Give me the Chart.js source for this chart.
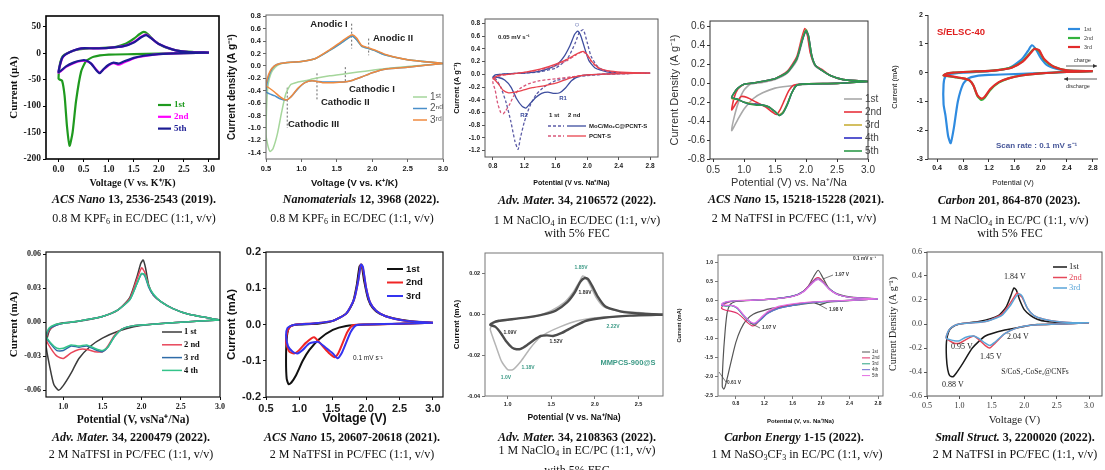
<!DOCTYPE html>
<html>
<head>
<meta charset="utf-8">
<script src="https://cdn.jsdelivr.net/npm/chart.js@4.4.1/dist/chart.umd.min.js"></script>
<style>
  html, body { margin: 0; padding: 0; background: #fff; }
  #fig { position: relative; width: 1105px; height: 470px; overflow: hidden; background: #fff; }
  #fig canvas { position: absolute; }
  .cap { position: absolute; white-space: nowrap; font-family: "Liberation Serif", "Times New Roman", serif;
         font-size: 12px; color: #111; transform: translate(-50%, -50%); line-height: 1; }
  .cap.b { font-weight: bold; }
  .cap sub { font-size: 8px; vertical-align: -2px; line-height: 0; }
</style>
</head>
<body>
<div id="fig"></div>
<script>
// ---------- captions ----------
const capJournal = ['ACS Nano', 'Nanomaterials', 'Adv. Mater.', 'ACS Nano', 'Carbon',
                    'Adv. Mater.', 'ACS Nano', 'Adv. Mater.', 'Carbon Energy', 'Small Struct.'];
const capRef = [' 13, 2536-2543 (2019).', ' 12, 3968 (2022).', ' 34, 2106572 (2022).', ' 15, 15218-15228 (2021).', ' 201, 864-870 (2023).',
                ' 34, 2200479 (2022).', ' 15, 20607-20618 (2021).', ' 34, 2108363 (2022).', ' 1-15 (2022).', ' 3, 2200020 (2022).'];
const capElectrolyte = ['0.8 M KPF<sub>6</sub> in EC/DEC (1:1, v/v)', '0.8 M KPF<sub>6</sub> in EC/DEC (1:1, v/v)',
                        '1 M NaClO<sub>4</sub> in EC/DEC (1:1, v/v)', '2 M NaTFSI in PC/FEC (1:1, v/v)',
                        '1 M NaClO<sub>4</sub> in EC/PC (1:1, v/v)', '2 M NaTFSI in PC/FEC (1:1, v/v)',
                        '2 M NaTFSI in PC/FEC (1:1, v/v)', '1 M NaClO<sub>4</sub> in EC/PC (1:1, v/v)',
                        '1 M NaSO<sub>3</sub>CF<sub>3</sub> in EC/PC (1:1, v/v)', '2 M NaTFSI in PC/FEC (1:1, v/v)'];
const capExtra = ['', '', 'with 5% FEC', '', 'with 5% FEC', '', '', 'with 5% FEC', '', ''];

// ---------- panel 1: ACS Nano 13 (K) ----------
const p1XTicks = [0, 0.5, 1.0, 1.5, 2.0, 2.5, 3.0];
const p1YTicks = [50, 0, -50, -100, -150, -200];
const p1V1 = [3.0, 2.5, 2.0, 1.5, 1.0, 0.7, 0.55, 0.45, 0.35, 0.28, 0.22, 0.17, 0.12, 0.07, 0.02, 0.0, 0.02, 0.06, 0.12, 0.25, 0.4, 0.6, 0.9, 1.15, 1.35, 1.5, 1.62, 1.7, 1.78, 1.9, 2.1, 2.4, 2.7, 3.0];
const p1I1 = [1, 0, -1, -2, -3, -7, -15, -35, -90, -150, -175, -140, -80, -52, -50, -48, -25, -10, -3, 3, 7, 9, 10, 12, 18, 27, 36, 40, 36, 24, 12, 4, 2, 1];
const p1V25 = [3.0, 2.5, 2.0, 1.7, 1.5, 1.3, 1.2, 1.1, 1.0, 0.9, 0.82, 0.75, 0.65, 0.55, 0.45, 0.3, 0.15, 0.05, 0.0, 0.03, 0.08, 0.15, 0.3, 0.45, 0.7, 1.0, 1.3, 1.5, 1.65, 1.75, 1.85, 2.0, 2.3, 2.6, 3.0];
const p1I2 = [1, 0, -2, -6, -10, -18, -22, -19, -23, -31, -37, -31, -20, -15, -15, -19, -26, -34, -37, -23, -9, -2, 5, 9, 9, 10, 13, 21, 31, 35, 28, 17, 6, 2, 1];
const p1I5 = [1, 0, -2, -5, -9, -16, -20, -18, -22, -30, -38, -32, -20, -14, -14, -18, -25, -33, -36, -22, -8, -2, 5, 9, 9, 10, 13, 20, 30, 34, 28, 17, 6, 2, 1];

// ---------- panel 2: Nanomaterials 12 ----------
const p2XTicks = [0.5, 1.0, 1.5, 2.0, 2.5, 3.0];
const p2YTicks = [0.8, 0.6, 0.4, 0.2, 0.0, -0.2, -0.4, -0.6, -0.8, -1.0, -1.2, -1.4];
const p2V1 = [3.0, 2.5, 2.2, 2.0, 1.8, 1.6, 1.4, 1.2, 1.05, 0.95, 0.85, 0.78, 0.72, 0.66, 0.6, 0.56, 0.53, 0.5, 0.51, 0.53, 0.57, 0.63, 0.7, 0.8, 1.0, 1.2, 1.4, 1.55, 1.65, 1.72, 1.78, 1.85, 1.95, 2.05, 2.2, 2.5, 3.0];
const p2I1 = [0.04, -0.01, -0.04, -0.07, -0.1, -0.13, -0.16, -0.2, -0.24, -0.26, -0.3, -0.45, -0.75, -1.1, -1.33, -1.38, -1.3, -1.1, -0.6, -0.3, -0.12, -0.02, 0.03, 0.05, 0.07, 0.12, 0.25, 0.36, 0.44, 0.48, 0.42, 0.32, 0.28, 0.24, 0.17, 0.1, 0.04];
const p2V23 = [3.0, 2.5, 2.2, 2.0, 1.85, 1.7, 1.6, 1.45, 1.3, 1.15, 1.05, 0.95, 0.85, 0.78, 0.7, 0.62, 0.55, 0.5, 0.52, 0.56, 0.62, 0.7, 0.85, 1.0, 1.2, 1.4, 1.55, 1.65, 1.72, 1.78, 1.85, 1.95, 2.05, 2.2, 2.5, 3.0];
const p2I2 = [0.04, -0.02, -0.05, -0.11, -0.18, -0.24, -0.26, -0.26, -0.26, -0.24, -0.27, -0.37, -0.5, -0.55, -0.53, -0.48, -0.45, -0.42, -0.25, -0.1, 0.0, 0.04, 0.06, 0.07, 0.12, 0.25, 0.36, 0.44, 0.48, 0.42, 0.32, 0.28, 0.24, 0.17, 0.1, 0.04];
const p2I3 = [0.04, -0.02, -0.05, -0.11, -0.18, -0.24, -0.26, -0.27, -0.27, -0.24, -0.27, -0.36, -0.5, -0.55, -0.5, -0.42, -0.36, -0.32, -0.2, -0.08, 0.0, 0.04, 0.06, 0.07, 0.12, 0.26, 0.38, 0.46, 0.5, 0.45, 0.33, 0.29, 0.25, 0.18, 0.1, 0.04];
const p2MarkV = [1.71, 1.95, 1.62, 1.22, 0.8];
const p2MarkTop = [0.68, 0.44, -0.02, -0.12, -0.35];
const p2MarkBot = [0.28, 0.17, -0.28, -0.55, -1.0];

// ---------- panel 3: Adv. Mater. 34, 2106572 ----------
const p3XTicks = [0.8, 1.2, 1.6, 2.0, 2.4, 2.8];
const p3YTicks = [0.8, 0.6, 0.4, 0.2, 0.0, -0.2, -0.4, -0.6, -0.8, -1.0, -1.2];
const p3VMoC1 = [2.8, 2.4, 2.2, 2.0, 1.8, 1.6, 1.45, 1.35, 1.27, 1.2, 1.15, 1.12, 1.08, 1.03, 0.97, 0.9, 0.84, 0.8, 0.83, 0.9, 1.0, 1.2, 1.4, 1.6, 1.75, 1.85, 1.9, 1.95, 2.0, 2.05, 2.15, 2.3, 2.5, 2.8];
const p3IMoC1 = [0.02, 0.01, 0.0, -0.02, -0.05, -0.1, -0.2, -0.32, -0.5, -0.75, -1.0, -1.18, -1.05, -0.75, -0.45, -0.2, -0.08, -0.05, -0.02, 0.0, 0.01, 0.02, 0.04, 0.1, 0.25, 0.5, 0.66, 0.7, 0.5, 0.28, 0.1, 0.04, 0.02, 0.02];
const p3VMoC2 = [2.8, 2.4, 2.0, 1.9, 1.8, 1.72, 1.65, 1.58, 1.5, 1.42, 1.35, 1.28, 1.22, 1.17, 1.1, 1.03, 0.95, 0.87, 0.8, 0.83, 0.9, 1.0, 1.2, 1.4, 1.6, 1.7, 1.78, 1.84, 1.88, 1.92, 1.97, 2.02, 2.1, 2.25, 2.5, 2.8];
const p3IMoC2 = [0.02, 0.01, -0.01, -0.03, -0.1, -0.22, -0.29, -0.3, -0.28, -0.3, -0.36, -0.45, -0.53, -0.5, -0.38, -0.2, -0.09, -0.05, -0.05, -0.01, 0.0, 0.01, 0.02, 0.05, 0.14, 0.27, 0.45, 0.63, 0.68, 0.6, 0.4, 0.22, 0.1, 0.04, 0.02, 0.02];
const p3VPC1 = [2.8, 2.4, 2.0, 1.8, 1.6, 1.4, 1.25, 1.15, 1.07, 1.01, 0.96, 0.93, 0.9, 0.86, 0.83, 0.8, 0.83, 0.9, 1.0, 1.2, 1.4, 1.6, 1.75, 1.85, 1.93, 1.98, 2.05, 2.15, 2.3, 2.5, 2.8];
const p3IPC1 = [0.02, 0.01, -0.01, -0.04, -0.07, -0.1, -0.15, -0.22, -0.33, -0.48, -0.58, -0.62, -0.6, -0.45, -0.25, -0.12, -0.06, -0.02, 0.0, 0.03, 0.07, 0.14, 0.22, 0.3, 0.35, 0.33, 0.2, 0.09, 0.04, 0.02, 0.02];
const p3VPC2 = [2.8, 2.4, 2.0, 1.8, 1.6, 1.45, 1.3, 1.18, 1.08, 1.0, 0.93, 0.87, 0.82, 0.8, 0.83, 0.9, 1.0, 1.2, 1.4, 1.6, 1.75, 1.88, 1.95, 2.0, 2.06, 2.15, 2.3, 2.5, 2.8];
const p3IPC2 = [0.02, 0.01, -0.01, -0.05, -0.14, -0.18, -0.21, -0.25, -0.28, -0.29, -0.25, -0.15, -0.08, -0.07, -0.04, -0.01, 0.0, 0.03, 0.08, 0.16, 0.24, 0.33, 0.36, 0.31, 0.2, 0.1, 0.05, 0.03, 0.02];

// ---------- panel 4: ACS Nano 15, 15218 ----------
const p4XTicks = [0.5, 1.0, 1.5, 2.0, 2.5, 3.0];
const p4YTicks = [0.6, 0.4, 0.2, 0.0, -0.2, -0.4, -0.6, -0.8];
const p4V1 = [3.0, 2.5, 2.0, 1.7, 1.5, 1.3, 1.15, 1.0, 0.9, 0.8, 0.85, 0.92, 1.0, 1.1, 1.3, 1.5, 1.7, 1.85, 1.93, 1.98, 2.03, 2.08, 2.15, 2.25, 2.4, 2.6, 3.0];
const p4I1 = [0.02, 0.0, -0.01, -0.03, -0.05, -0.1, -0.16, -0.27, -0.38, -0.5, -0.33, -0.18, -0.07, -0.01, 0.01, 0.04, 0.11, 0.24, 0.42, 0.55, 0.5, 0.3, 0.18, 0.14, 0.08, 0.04, 0.02];
const p4V2 = [3.0, 2.5, 2.0, 1.8, 1.72, 1.65, 1.58, 1.52, 1.45, 1.35, 1.2, 1.05, 0.95, 0.88, 0.8, 0.84, 0.9, 1.0, 1.2, 1.5, 1.7, 1.85, 1.93, 1.98, 2.02, 2.07, 2.15, 2.25, 2.4, 2.6, 3.0];
const p4I2 = [0.02, 0.0, -0.005, -0.02, -0.08, -0.18, -0.28, -0.33, -0.3, -0.25, -0.2, -0.15, -0.14, -0.2, -0.28, -0.15, -0.06, -0.01, 0.01, 0.05, 0.13, 0.28, 0.48, 0.58, 0.52, 0.32, 0.19, 0.15, 0.08, 0.04, 0.02];
const p4V345 = [3.0, 2.5, 2.0, 1.85, 1.77, 1.7, 1.63, 1.57, 1.5, 1.4, 1.3, 1.2, 1.1, 1.0, 0.9, 0.8, 0.84, 0.9, 1.0, 1.2, 1.5, 1.7, 1.85, 1.94, 2.0, 2.04, 2.09, 2.15, 2.25, 2.4, 2.6, 3.0];
const p4I3 = [0.02, 0.0, -0.005, -0.02, -0.1, -0.21, -0.3, -0.33, -0.3, -0.25, -0.23, -0.22, -0.21, -0.2, -0.17, -0.16, -0.1, -0.05, -0.01, 0.01, 0.05, 0.12, 0.26, 0.47, 0.57, 0.5, 0.3, 0.19, 0.14, 0.08, 0.04, 0.02];
const p4I4 = [0.02, 0.0, -0.005, -0.02, -0.1, -0.22, -0.31, -0.34, -0.3, -0.25, -0.23, -0.22, -0.22, -0.2, -0.17, -0.15, -0.1, -0.05, -0.01, 0.01, 0.05, 0.12, 0.26, 0.46, 0.56, 0.5, 0.3, 0.19, 0.14, 0.08, 0.04, 0.02];
const p4I5 = [0.02, 0.0, -0.005, -0.02, -0.1, -0.22, -0.31, -0.34, -0.3, -0.25, -0.23, -0.23, -0.22, -0.2, -0.17, -0.15, -0.1, -0.05, -0.01, 0.01, 0.05, 0.12, 0.26, 0.46, 0.56, 0.5, 0.3, 0.19, 0.14, 0.08, 0.04, 0.02];

// ---------- panel 5: Carbon 201 ----------
const p5XTicks = [0.4, 0.8, 1.2, 1.6, 2.0, 2.4, 2.8];
const p5YTicks = [2, 1, 0, -1, -2, -3];
const p5V1 = [2.8, 2.4, 2.0, 1.6, 1.2, 1.0, 0.88, 0.8, 0.72, 0.66, 0.61, 0.57, 0.53, 0.5, 0.5, 0.53, 0.6, 0.8, 1.2, 1.5, 1.7, 1.8, 1.86, 1.92, 2.0, 2.1, 2.3, 2.5, 2.8];
const p5I1 = [0.05, 0.02, -0.02, -0.05, -0.08, -0.12, -0.2, -0.4, -1.0, -1.9, -2.45, -2.2, -1.5, -1.1, -0.4, -0.12, -0.05, 0.0, 0.05, 0.15, 0.45, 0.75, 0.95, 0.82, 0.5, 0.25, 0.1, 0.06, 0.05];
const p5V23 = [2.8, 2.4, 2.0, 1.7, 1.5, 1.35, 1.22, 1.13, 1.08, 1.02, 0.96, 0.9, 0.8, 0.7, 0.6, 0.5, 0.55, 0.65, 0.8, 1.0, 1.3, 1.55, 1.72, 1.82, 1.9, 1.97, 2.05, 2.2, 2.4, 2.8];
const p5I2 = [0.05, 0.02, -0.03, -0.1, -0.2, -0.35, -0.6, -0.88, -0.95, -0.8, -0.45, -0.27, -0.2, -0.17, -0.13, -0.1, -0.03, 0.0, 0.02, 0.04, 0.08, 0.18, 0.4, 0.65, 0.83, 0.75, 0.45, 0.2, 0.08, 0.05];
const p5I3 = [0.05, 0.02, -0.03, -0.1, -0.2, -0.33, -0.57, -0.85, -0.9, -0.78, -0.45, -0.27, -0.2, -0.16, -0.12, -0.1, -0.03, 0.0, 0.02, 0.04, 0.08, 0.17, 0.38, 0.62, 0.82, 0.78, 0.47, 0.2, 0.08, 0.05];

// ---------- panel 6: Adv. Mater. 34, 2200479 ----------
const p6XTicks = [1.0, 1.5, 2.0, 2.5, 3.0];
const p6YTicks = [0.06, 0.03, 0.0, -0.03, -0.06];
const p6V1 = [3.0, 2.5, 2.1, 1.9, 1.7, 1.5, 1.35, 1.2, 1.1, 1.0, 0.94, 0.88, 0.83, 0.78, 0.82, 0.88, 0.95, 1.1, 1.3, 1.5, 1.7, 1.85, 1.94, 1.99, 2.02, 2.05, 2.09, 2.15, 2.25, 2.4, 2.6, 3.0];
const p6I1 = [0.002, 0.0, -0.002, -0.004, -0.008, -0.014, -0.021, -0.032, -0.045, -0.056, -0.06, -0.055, -0.04, -0.02, -0.008, -0.003, -0.001, 0.0, 0.002, 0.005, 0.011, 0.022, 0.04, 0.052, 0.055, 0.048, 0.033, 0.024, 0.018, 0.012, 0.007, 0.002];
const p6V234 = [3.0, 2.5, 2.1, 1.9, 1.75, 1.65, 1.57, 1.5, 1.4, 1.3, 1.2, 1.1, 1.0, 0.92, 0.85, 0.78, 0.82, 0.9, 1.0, 1.2, 1.5, 1.7, 1.85, 1.94, 2.0, 2.04, 2.09, 2.15, 2.25, 2.4, 2.6, 3.0];
const p6I2 = [0.002, 0.0, -0.002, -0.003, -0.006, -0.012, -0.021, -0.026, -0.026, -0.024, -0.024, -0.027, -0.032, -0.03, -0.024, -0.015, -0.007, -0.003, -0.001, 0.001, 0.005, 0.011, 0.021, 0.038, 0.048, 0.044, 0.032, 0.024, 0.018, 0.012, 0.007, 0.002];
const p6I3 = [0.002, 0.0, -0.002, -0.003, -0.006, -0.013, -0.022, -0.026, -0.024, -0.021, -0.022, -0.021, -0.025, -0.025, -0.02, -0.013, -0.006, -0.003, -0.001, 0.001, 0.005, 0.011, 0.02, 0.034, 0.043, 0.041, 0.031, 0.024, 0.018, 0.012, 0.007, 0.002];
const p6I4 = [0.002, 0.0, -0.002, -0.003, -0.006, -0.013, -0.022, -0.025, -0.023, -0.02, -0.021, -0.02, -0.023, -0.023, -0.019, -0.012, -0.005, -0.002, -0.001, 0.001, 0.005, 0.011, 0.02, 0.034, 0.043, 0.042, 0.032, 0.025, 0.018, 0.012, 0.007, 0.002];

// ---------- panel 7: ACS Nano 15, 20607 ----------
const p7XTicks = [0.5, 1.0, 1.5, 2.0, 2.5, 3.0];
const p7YTicks = [0.2, 0.1, 0.0, -0.1, -0.2];
const p7V1 = [3.0, 2.5, 2.0, 1.7, 1.5, 1.3, 1.15, 1.05, 0.95, 0.88, 0.84, 0.81, 0.8, 0.81, 0.84, 0.9, 1.0, 1.3, 1.5, 1.7, 1.8, 1.86, 1.9, 1.93, 1.97, 2.03, 2.1, 2.2, 2.4, 2.7, 3.0];
const p7I1 = [0.005, 0.002, 0.0, -0.004, -0.015, -0.04, -0.07, -0.1, -0.14, -0.16, -0.165, -0.15, -0.1, -0.04, -0.01, -0.002, 0.0, 0.003, 0.01, 0.03, 0.06, 0.11, 0.16, 0.165, 0.12, 0.07, 0.045, 0.03, 0.017, 0.008, 0.005];
const p7V2 = [3.0, 2.5, 2.0, 1.8, 1.72, 1.65, 1.58, 1.53, 1.45, 1.35, 1.22, 1.1, 1.0, 0.92, 0.85, 0.8, 0.82, 0.87, 0.95, 1.2, 1.5, 1.7, 1.82, 1.88, 1.92, 1.95, 2.0, 2.06, 2.15, 2.3, 2.6, 3.0];
const p7I2 = [0.005, 0.002, 0.0, -0.002, -0.02, -0.05, -0.08, -0.09, -0.08, -0.06, -0.035, -0.05, -0.07, -0.08, -0.075, -0.05, -0.02, -0.005, 0.0, 0.003, 0.01, 0.03, 0.07, 0.12, 0.165, 0.155, 0.1, 0.06, 0.038, 0.022, 0.01, 0.005];
const p7V3 = [3.0, 2.5, 2.0, 1.85, 1.77, 1.7, 1.63, 1.57, 1.5, 1.4, 1.28, 1.15, 1.05, 0.97, 0.9, 0.83, 0.8, 0.82, 0.88, 0.95, 1.2, 1.5, 1.7, 1.82, 1.88, 1.92, 1.95, 2.0, 2.06, 2.15, 2.3, 2.6, 3.0];
const p7I3 = [0.005, 0.002, 0.0, -0.002, -0.02, -0.05, -0.08, -0.093, -0.08, -0.065, -0.048, -0.052, -0.07, -0.08, -0.075, -0.06, -0.03, -0.01, -0.003, 0.0, 0.003, 0.01, 0.03, 0.07, 0.12, 0.165, 0.16, 0.1, 0.06, 0.038, 0.022, 0.01, 0.005];

// ---------- panel 8: Adv. Mater. 34, 2108363 ----------
const p8XTicks = [1.0, 1.5, 2.0, 2.5];
const p8YTicks = [0.02, 0.0, -0.02, -0.04];
const p8V1 = [2.8, 2.4, 2.2, 2.0, 1.8, 1.6, 1.45, 1.35, 1.25, 1.15, 1.06, 1.0, 0.93, 0.87, 0.82, 0.8, 0.84, 0.95, 1.1, 1.3, 1.5, 1.65, 1.75, 1.82, 1.86, 1.9, 1.95, 2.02, 2.1, 2.25, 2.5, 2.8];
const p8I1 = [0.0, -0.0005, -0.001, -0.0015, -0.003, -0.006, -0.009, -0.012, -0.017, -0.023, -0.027, -0.027, -0.023, -0.016, -0.01, -0.007, -0.004, -0.003, -0.002, -0.001, 0.002, 0.006, 0.011, 0.016, 0.019, 0.018, 0.014, 0.008, 0.004, 0.002, 0.001, 0.0];
const p8V2 = [2.8, 2.4, 2.1, 1.9, 1.75, 1.62, 1.52, 1.45, 1.38, 1.3, 1.22, 1.15, 1.1, 1.05, 0.98, 0.92, 0.86, 0.8, 0.83, 0.9, 1.0, 1.2, 1.4, 1.55, 1.68, 1.77, 1.83, 1.88, 1.92, 1.97, 2.03, 2.12, 2.3, 2.55, 2.8];
const p8I2 = [0.0, -0.0005, -0.0015, -0.003, -0.006, -0.009, -0.0105, -0.0102, -0.0105, -0.0125, -0.015, -0.0168, -0.017, -0.0162, -0.013, -0.009, -0.006, -0.005, -0.004, -0.003, -0.0025, -0.0015, 0.0, 0.002, 0.006, 0.011, 0.016, 0.018, 0.0175, 0.014, 0.009, 0.004, 0.0015, 0.0005, 0.0];

// ---------- panel 9: Carbon Energy ----------
const p9XTicks = [0.8, 1.2, 1.6, 2.0, 2.4, 2.8];
const p9YTicks = [1.0, 0.5, 0.0, -0.5, -1.0, -1.5, -2.0, -2.5];
const p9V1 = [2.8, 2.4, 2.1, 1.98, 1.9, 1.7, 1.5, 1.3, 1.15, 1.05, 0.95, 0.87, 0.8, 0.74, 0.69, 0.65, 0.63, 0.61, 0.62, 0.65, 0.68, 0.72, 0.8, 0.95, 1.2, 1.5, 1.7, 1.82, 1.9, 1.96, 2.02, 2.1, 2.2, 2.4, 2.6, 2.8];
const p9I1 = [0.05, 0.0, -0.04, -0.1, -0.06, -0.1, -0.15, -0.2, -0.28, -0.35, -0.5, -0.75, -1.1, -1.55, -1.95, -2.25, -2.32, -2.25, -1.6, -0.8, -0.3, -0.1, -0.02, 0.0, 0.03, 0.08, 0.18, 0.38, 0.65, 0.8, 0.62, 0.35, 0.2, 0.1, 0.07, 0.05];
const p9V2to5 = [2.8, 2.4, 2.0, 1.8, 1.6, 1.4, 1.25, 1.15, 1.08, 1.03, 0.97, 0.9, 0.82, 0.74, 0.66, 0.6, 0.62, 0.68, 0.8, 1.0, 1.3, 1.6, 1.75, 1.85, 1.92, 1.97, 2.03, 2.12, 2.25, 2.45, 2.8];
const p9I2 = [0.05, 0.01, -0.02, -0.05, -0.1, -0.17, -0.3, -0.48, -0.63, -0.66, -0.58, -0.45, -0.33, -0.28, -0.25, -0.2, -0.12, -0.05, 0.0, 0.01, 0.04, 0.12, 0.25, 0.45, 0.58, 0.6, 0.5, 0.3, 0.15, 0.08, 0.05];
const p9I3 = [0.05, 0.01, -0.03, -0.06, -0.12, -0.2, -0.33, -0.5, -0.6, -0.6, -0.52, -0.38, -0.2, -0.13, -0.14, -0.12, -0.08, -0.03, 0.0, 0.01, 0.04, 0.12, 0.24, 0.42, 0.54, 0.56, 0.48, 0.3, 0.15, 0.08, 0.05];
const p9I4 = [0.05, 0.01, -0.03, -0.06, -0.12, -0.2, -0.33, -0.49, -0.59, -0.59, -0.5, -0.36, -0.19, -0.12, -0.13, -0.11, -0.07, -0.03, 0.0, 0.01, 0.04, 0.12, 0.24, 0.43, 0.55, 0.56, 0.47, 0.3, 0.15, 0.08, 0.05];
const p9I5 = [0.05, 0.01, -0.02, -0.04, -0.08, -0.15, -0.28, -0.45, -0.57, -0.58, -0.5, -0.35, -0.18, -0.12, -0.12, -0.1, -0.06, -0.02, 0.0, 0.01, 0.04, 0.11, 0.23, 0.41, 0.53, 0.55, 0.47, 0.29, 0.15, 0.08, 0.05];

// ---------- panel 10: Small Struct. 3 ----------
const p10XTicks = [0.5, 1.0, 1.5, 2.0, 2.5, 3.0];
const p10YTicks = [0.6, 0.4, 0.2, 0.0, -0.2, -0.4, -0.6];
const p10V1 = [3.0, 2.5, 2.2, 2.0, 1.7, 1.4, 1.2, 1.05, 0.95, 0.9, 0.85, 0.82, 0.8, 0.8, 0.83, 0.88, 1.0, 1.3, 1.6, 1.72, 1.79, 1.84, 1.88, 1.93, 2.0, 2.1, 2.2, 2.35, 2.5, 2.75, 3.0];
const p10I1 = [0.01, 0.0, -0.005, -0.02, -0.05, -0.1, -0.2, -0.33, -0.41, -0.44, -0.43, -0.38, -0.28, -0.15, -0.07, -0.03, 0.0, 0.02, 0.07, 0.14, 0.23, 0.3, 0.28, 0.2, 0.12, 0.07, 0.04, 0.02, 0.015, 0.01, 0.01];
const p10V23 = [3.0, 2.5, 2.1, 1.9, 1.7, 1.55, 1.47, 1.4, 1.3, 1.22, 1.1, 1.0, 0.92, 0.85, 0.8, 0.8, 0.84, 0.9, 1.0, 1.4, 1.65, 1.78, 1.85, 1.89, 1.93, 1.97, 2.05, 2.15, 2.3, 2.5, 2.75, 3.0];
const p10I2 = [0.01, 0.0, -0.01, -0.03, -0.08, -0.16, -0.2, -0.18, -0.13, -0.1, -0.13, -0.16, -0.16, -0.14, -0.12, -0.1, -0.05, -0.02, 0.0, 0.02, 0.08, 0.17, 0.23, 0.26, 0.24, 0.22, 0.13, 0.07, 0.04, 0.02, 0.01, 0.01];
const p10I3 = [0.01, 0.0, -0.01, -0.03, -0.08, -0.15, -0.18, -0.16, -0.12, -0.1, -0.11, -0.14, -0.14, -0.13, -0.12, -0.1, -0.05, -0.02, 0.0, 0.02, 0.07, 0.15, 0.21, 0.24, 0.25, 0.23, 0.13, 0.07, 0.04, 0.02, 0.01, 0.01];

// ---------- helpers ----------
const SERIF = "'Liberation Serif', 'Times New Roman', serif";
const SANS = "'Liberation Sans', Arial, sans-serif";

function pts(v, i) { return v.map((x, k) => ({ x: x, y: i[k] })); }

const decoPlugin = {
  id: 'deco',
  afterDatasetsDraw(chart, args, o) {
    const ctx = chart.ctx, a = chart.chartArea, ox = o.ox, oy = o.oy;
    const ds = chart.data.datasets;
    ctx.save();
    ctx.setLineDash([]);
    ctx.strokeStyle = o.frame; ctx.lineWidth = o.frameW;
    if (o.open) {
      ctx.beginPath(); ctx.moveTo(a.left, a.top); ctx.lineTo(a.left, a.bottom); ctx.lineTo(a.right, a.bottom); ctx.stroke();
    } else {
      ctx.strokeRect(a.left, a.top, a.right - a.left, a.bottom - a.top);
    }
    ctx.textBaseline = 'middle';
    if (o.legend) {
      const L = o.legend; let k = 0;
      ds.forEach(d => {
        if (!d.label) return;
        const y = L.y + k * L.dy - oy, x = L.x - ox;
        ctx.strokeStyle = d.borderColor; ctx.lineWidth = L.lw || d.borderWidth;
        ctx.setLineDash(d.borderDash || []);
        ctx.beginPath(); ctx.moveTo(x, y); ctx.lineTo(x + L.len, y); ctx.stroke();
        ctx.setLineDash([]);
        ctx.font = L.font; ctx.fillStyle = L.color || d.borderColor; ctx.textAlign = 'left';
        ctx.fillText(d.label, x + L.len + L.gap, y);
        k++;
      });
    }
    if (o.pairs) {
      const P = o.pairs;
      ctx.font = P.font; ctx.fillStyle = P.color; ctx.textAlign = 'left';
      P.head.forEach(h => ctx.fillText(h[0], h[1] - ox, P.hy - oy));
      P.rows.forEach((r, k) => {
        const y = P.y + k * P.dy - oy;
        [r[0], r[1]].forEach((idx, j) => {
          const d = ds[idx];
          ctx.strokeStyle = d.borderColor; ctx.lineWidth = d.borderWidth; ctx.setLineDash(d.borderDash || []);
          ctx.beginPath(); ctx.moveTo(P.seg[j][0] - ox, y); ctx.lineTo(P.seg[j][1] - ox, y); ctx.stroke();
        });
        ctx.setLineDash([]);
        ctx.fillText(r[2], P.tx - ox, y);
      });
    }
    (o.segs || []).forEach(s => {
      ctx.strokeStyle = s[4]; ctx.lineWidth = s[5] || 0.7;
      ctx.beginPath(); ctx.moveTo(s[0] - ox, s[1] - oy); ctx.lineTo(s[2] - ox, s[3] - oy); ctx.stroke();
    });
    (o.arrows || []).forEach(r => {
      const x1 = r[0] - ox, y = r[1] - oy, x2 = r[2] - ox, dir = x2 > x1 ? 1 : -1;
      ctx.strokeStyle = r[3]; ctx.fillStyle = r[3]; ctx.lineWidth = 0.8;
      ctx.beginPath(); ctx.moveTo(x1, y); ctx.lineTo(x2, y); ctx.stroke();
      ctx.beginPath(); ctx.moveTo(x2, y); ctx.lineTo(x2 - dir * 4, y - 2); ctx.lineTo(x2 - dir * 4, y + 2); ctx.closePath(); ctx.fill();
    });
    (o.notes || []).forEach(n => {
      ctx.font = n.f; ctx.fillStyle = n.c; ctx.textAlign = n.a || 'left';
      ctx.fillText(n.t, n.x - ox, n.y - oy);
    });
    ctx.restore();
  }
};

function axisOpts(p, k) {
  const a = p[k];
  const isX = k === 'x';
  const tSize = isX ? p.xtSize : p.ytSize;
  const lh = tSize * 1.2;
  const pad = isX ? Math.max(0, p.box[3] - a.titlePos - lh / 2) : Math.max(0, a.titlePos - p.box[0] - lh / 2);
  return {
    type: 'linear', min: a.min, max: a.max,
    afterBuildTicks: s => { s.ticks = a.ticks.map(v => ({ value: v })); },
    afterFit: s => { if (isX) s.height = p.box[3] - p.plot[3]; else s.width = p.plot[0] - p.box[0]; },
    ticks: {
      autoSkip: false, maxRotation: 0, minRotation: 0, padding: 2, color: p.tickColor || '#1a1a1a',
      font: { family: p.fam, size: p.tick, weight: p.tickBold ? 'bold' : 'normal' },
      callback: v => Number(v).toFixed(a.dec)
    },
    grid: { drawOnChartArea: false, drawTicks: true, tickLength: 3, color: p.frame, lineWidth: 1 },
    border: { display: false },
    title: {
      display: true, text: a.title, color: p.titleColor || '#111',
      font: { family: p.fam, size: tSize, weight: p.titleBold ? 'bold' : 'normal' },
      padding: isX ? { top: 0, bottom: pad } : { top: pad, bottom: 0 }
    }
  };
}

function makePanel(p) {
  const c = document.createElement('canvas');
  const w = p.box[2] - p.box[0], h = p.box[3] - p.box[1];
  c.width = w; c.height = h;
  c.style.left = p.box[0] + 'px'; c.style.top = p.box[1] + 'px';
  c.style.width = w + 'px'; c.style.height = h + 'px';
  document.getElementById('fig').appendChild(c);
  const datasets = p.series.map((s, k) => ({
    label: s.label, data: pts(s.v, s.i),
    borderColor: s.color, backgroundColor: s.color,
    borderWidth: s.w || p.lw, borderDash: s.dash || [],
    showLine: true, pointRadius: 0, tension: 0.2, order: -k
  }));
  (p.marks || []).forEach(m => datasets.push({
    data: m.data, borderColor: m.color, borderWidth: 1, borderDash: [2, 2],
    showLine: true, pointRadius: 0, tension: 0, order: 10
  }));
  const deco = Object.assign({ ox: p.box[0], oy: p.box[1], frame: p.frame, frameW: p.frameW, open: p.open }, p.deco);
  new Chart(c, {
    type: 'scatter',
    data: { datasets: datasets },
    options: {
      responsive: false, animation: false, devicePixelRatio: 1,
      layout: { padding: { left: 0, top: p.plot[1] - p.box[1], right: p.box[2] - p.plot[2], bottom: 0 } },
      plugins: { legend: { display: false }, tooltip: { enabled: false }, deco: deco },
      scales: { x: axisOpts(p, 'x'), y: axisOpts(p, 'y') }
    },
    plugins: [decoPlugin]
  });
}

// ---------- panels ----------
const panels = [
  { // 1
    box: [0, 3, 224, 194], plot: [46, 16, 219, 159], fam: SERIF, tick: 9.5, tickBold: true, titleBold: true,
    ytSize: 11, xtSize: 10, frame: '#000', frameW: 1.6, lw: 2.2,
    x: { min: -0.25, max: 3.2, ticks: p1XTicks, dec: 1, title: 'Voltage (V vs. K\u207A/K)', titlePos: 183 },
    y: { min: -200, max: 70, ticks: p1YTicks, dec: 0, title: 'Current (\u03BCA)', titlePos: 14 },
    series: [
      { label: '1st', v: p1V1, i: p1I1, color: '#1f9a1f' },
      { label: '2nd', v: p1V25, i: p1I2, color: '#ff00ff' },
      { label: '5th', v: p1V25, i: p1I5, color: '#1c1c94' }
    ],
    deco: { legend: { x: 158, y: 105, dy: 11.8, len: 13, gap: 3, font: "bold 9px " + SERIF } }
  },
  { // 2
    box: [225, 3, 456, 194], plot: [266, 15, 443, 159], fam: SANS, tick: 7.5, tickBold: true, titleBold: true,
    ytSize: 10, xtSize: 9.5, frame: '#666', frameW: 1, lw: 1.5,
    x: { min: 0.5, max: 3.0, ticks: p2XTicks, dec: 1, title: 'Voltage (V vs. K\u207A/K)', titlePos: 183 },
    y: { min: -1.5, max: 0.82, ticks: p2YTicks, dec: 1, title: 'Current density (A g\u207B\u00B9)', titlePos: 232 },
    series: [
      { label: '1\u02E2\u1D57', v: p2V1, i: p2I1, color: '#a5d69b' },
      { label: '2\u207F\u1D48', v: p2V23, i: p2I2, color: '#4a8fc9' },
      { label: '3\u02B3\u1D48', v: p2V23, i: p2I3, color: '#ef8a3f' }
    ],
    marks: p2MarkV.map((v, k) => ({ data: [{ x: v, y: p2MarkTop[k] }, { x: v, y: p2MarkBot[k] }], color: '#666' })),
    deco: {
      legend: { x: 413, y: 97, dy: 11.5, len: 14, gap: 3, font: "10px " + SANS, color: '#555' },
      notes: [
        { t: 'Anodic I', x: 329, y: 24, f: "bold 9.5px " + SANS, c: '#222', a: 'center' },
        { t: 'Anodic II', x: 373, y: 38, f: "bold 9.5px " + SANS, c: '#222' },
        { t: 'Cathodic I', x: 349, y: 89, f: "bold 9.5px " + SANS, c: '#222' },
        { t: 'Cathodic II', x: 321, y: 102, f: "bold 9.5px " + SANS, c: '#222' },
        { t: 'Cathodic III', x: 288, y: 124, f: "bold 9.5px " + SANS, c: '#222' }
      ]
    }
  },
  { // 3
    box: [450, 3, 664, 194], plot: [485, 19, 658, 157], fam: SANS, tick: 6.5, tickBold: true, titleBold: true,
    ytSize: 7.5, xtSize: 7, frame: '#555', frameW: 1, lw: 1.3,
    x: { min: 0.7, max: 2.9, ticks: p3XTicks, dec: 1, title: 'Potential (V vs. Na\u207A/Na)', titlePos: 183 },
    y: { min: -1.3, max: 0.87, ticks: p3YTicks, dec: 1, title: 'Current (A g\u207B\u00B9)', titlePos: 457 },
    series: [
      { label: 'MoC 1st', v: p3VMoC1, i: p3IMoC1, color: '#5b5ba6', dash: [3, 2] },
      { label: 'MoC 2nd', v: p3VMoC2, i: p3IMoC2, color: '#3d4d9e' },
      { label: 'PCNT 1st', v: p3VPC1, i: p3IPC1, color: '#d8577a', dash: [3, 2] },
      { label: 'PCNT 2nd', v: p3VPC2, i: p3IPC2, color: '#e8434e' }
    ],
    deco: {
      pairs: {
        font: "bold 6px " + SANS, color: '#222', hy: 115, head: [['1 st', 549], ['2 nd', 568]],
        y: 126, dy: 10, seg: [[548, 564], [567, 586]], tx: 589,
        rows: [[0, 1, 'MoC/Mo\u2082C@PCNT-S'], [2, 3, 'PCNT-S']]
      },
      notes: [
        { t: '0.05 mV s\u207B\u00B9', x: 498, y: 37, f: "bold 6px " + SANS, c: '#222' },
        { t: '\u25CB', x: 577, y: 25, f: "8px " + SANS, c: '#3d4d9e', a: 'center' },
        { t: 'R2', x: 524, y: 115, f: "bold 6px " + SANS, c: '#3d4d9e', a: 'center' },
        { t: 'R1', x: 563, y: 98, f: "bold 6px " + SANS, c: '#3d4d9e', a: 'center' }
      ]
    }
  },
  { // 4
    box: [665, 3, 884, 194], plot: [710, 21, 868, 159], fam: SANS, tick: 10, tickBold: false, titleBold: false,
    ytSize: 11, xtSize: 11, frame: '#333', frameW: 1, lw: 1.6, tickColor: '#333', titleColor: '#333',
    x: { min: 0.45, max: 3.0, ticks: p4XTicks, dec: 1, title: 'Potential (V) vs. Na\u207A/Na', titlePos: 183 },
    y: { min: -0.8, max: 0.66, ticks: p4YTicks, dec: 1, title: 'Current Density (A g\u207B\u00B9)', titlePos: 675 },
    series: [
      { label: '1st', v: p4V1, i: p4I1, color: '#a9a9a9' },
      { label: '2nd', v: p4V2, i: p4I2, color: '#e8333c' },
      { label: '3rd', v: p4V345, i: p4I3, color: '#c9b03a' },
      { label: '4th', v: p4V345, i: p4I4, color: '#2f2fc4' },
      { label: '5th', v: p4V345, i: p4I5, color: '#2e9a4a' }
    ],
    deco: { legend: { x: 844, y: 99, dy: 13, len: 18, gap: 3, font: "10px " + SANS, color: '#444' } }
  },
  { // 5
    box: [885, 3, 1104, 194], plot: [928, 15, 1098, 159], fam: SANS, tick: 7, tickBold: true, titleBold: false,
    ytSize: 7.5, xtSize: 7.5, frame: '#333', frameW: 1, lw: 2.2, open: true,
    x: { min: 0.26, max: 2.88, ticks: p5XTicks, dec: 1, title: 'Potential (V)', titlePos: 183 },
    y: { min: -3, max: 2, ticks: p5YTicks, dec: 0, title: 'Current (mA)', titlePos: 895 },
    series: [
      { label: '1st', v: p5V1, i: p5I1, color: '#2f8be0' },
      { label: '2nd', v: p5V23, i: p5I2, color: '#33b33e' },
      { label: '3rd', v: p5V23, i: p5I3, color: '#e22b2b' }
    ],
    deco: {
      legend: { x: 1068, y: 29, dy: 9, len: 12, gap: 4, font: "5.5px " + SANS, color: '#444' },
      notes: [
        { t: 'S/ELSC-40', x: 937, y: 32, f: "bold 9.5px " + SANS, c: '#e02020' },
        { t: 'Scan rate : 0.1 mV s\u207B\u00B9', x: 996, y: 146, f: "bold 8px " + SANS, c: '#48589a' },
        { t: 'charge', x: 1074, y: 60, f: "5.5px " + SANS, c: '#333' },
        { t: 'discharge', x: 1066, y: 86, f: "5.5px " + SANS, c: '#333' }
      ],
      arrows: [[1066, 66, 1097, '#333'], [1097, 79, 1064, '#333']]
    }
  },
  { // 6
    box: [0, 240, 232, 432], plot: [46, 252, 220, 397], fam: SERIF, tick: 8, tickBold: true, titleBold: true,
    ytSize: 11, xtSize: 11.5, frame: '#111', frameW: 1.2, lw: 1.5,
    x: { min: 0.78, max: 3.0, ticks: p6XTicks, dec: 1, title: 'Potential (V, vsNa\u207A/Na)', titlePos: 420 },
    y: { min: -0.066, max: 0.062, ticks: p6YTicks, dec: 2, title: 'Current (mA)', titlePos: 14 },
    series: [
      { label: '1 st', v: p6V1, i: p6I1, color: '#3b3b3b' },
      { label: '2 nd', v: p6V234, i: p6I2, color: '#e8465a' },
      { label: '3 rd', v: p6V234, i: p6I3, color: '#2e6ca8' },
      { label: '4 th', v: p6V234, i: p6I4, color: '#34c48a' }
    ],
    deco: { legend: { x: 162, y: 332, dy: 12.8, len: 20, gap: 2, font: "bold 8.5px " + SERIF, color: '#111' } }
  },
  { // 7
    box: [225, 240, 448, 432], plot: [266, 252, 443, 397], fam: SANS, tick: 11, tickBold: true, titleBold: true,
    ytSize: 11.5, xtSize: 12.5, frame: '#111', frameW: 1.2, lw: 2,
    x: { min: 0.5, max: 3.15, ticks: p7XTicks, dec: 1, title: 'Voltage (V)', titlePos: 419 },
    y: { min: -0.2, max: 0.2, ticks: p7YTicks, dec: 1, title: 'Current (mA)', titlePos: 232 },
    series: [
      { label: '1st', v: p7V1, i: p7I1, color: '#111111' },
      { label: '2nd', v: p7V2, i: p7I2, color: '#f02525' },
      { label: '3rd', v: p7V3, i: p7I3, color: '#3434f0' }
    ],
    deco: {
      legend: { x: 387, y: 269, dy: 13.5, len: 16, gap: 3, font: "bold 9.5px " + SANS, color: '#111' },
      notes: [{ t: '0.1 mV s\u207B\u00B9', x: 353, y: 358, f: "6.5px " + SANS, c: '#222' }]
    }
  },
  { // 8
    box: [450, 240, 664, 432], plot: [485, 253, 663, 396], fam: SANS, tick: 5.5, tickBold: true, titleBold: true,
    ytSize: 8, xtSize: 8.5, frame: '#777', frameW: 1, lw: 1.5,
    x: { min: 0.74, max: 2.78, ticks: p8XTicks, dec: 1, title: 'Potential (V vs. Na\u207A/Na)', titlePos: 418 },
    y: { min: -0.04, max: 0.0303, ticks: p8YTicks, dec: 2, title: 'Current (mA)', titlePos: 457 },
    series: [
      { label: '', v: p8V1, i: p8I1, color: '#b5b5b5', w: 1.5 },
      { label: '', v: p8V2, i: p8I2, color: '#4d4d4d', w: 2.4 }
    ],
    deco: {
      notes: [
        { t: '1.85V', x: 581, y: 268, f: "bold 5px " + SANS, c: '#3c9a86', a: 'center' },
        { t: '1.89V', x: 585, y: 293, f: "bold 5px " + SANS, c: '#333', a: 'center' },
        { t: '2.22V', x: 613, y: 327, f: "bold 5px " + SANS, c: '#3c9a86', a: 'center' },
        { t: '1.09V', x: 510, y: 333, f: "bold 5px " + SANS, c: '#333', a: 'center' },
        { t: '1.52V', x: 556, y: 342, f: "bold 5px " + SANS, c: '#333', a: 'center' },
        { t: '1.18V', x: 528, y: 368, f: "bold 5px " + SANS, c: '#3c9a86', a: 'center' },
        { t: '1.0V', x: 506, y: 378, f: "bold 5px " + SANS, c: '#3c9a86', a: 'center' },
        { t: 'MMPCS-900@S', x: 628, y: 363, f: "bold 7.5px " + SANS, c: '#3c9a86', a: 'center' }
      ]
    }
  },
  { // 9
    box: [665, 240, 884, 432], plot: [718, 255, 883, 396], fam: SANS, tick: 5, tickBold: true, titleBold: true,
    ytSize: 5.5, xtSize: 6, frame: '#777', frameW: 1, lw: 1.2,
    x: { min: 0.55, max: 2.87, ticks: p9XTicks, dec: 1, title: 'Potential (V, vs. Na\u207A/Na)', titlePos: 421 },
    y: { min: -2.5, max: 1.2, ticks: p9YTicks, dec: 1, title: 'Current (mA)', titlePos: 679 },
    series: [
      { label: '1st', v: p9V1, i: p9I1, color: '#555555' },
      { label: '2nd', v: p9V2to5, i: p9I2, color: '#e0306a' },
      { label: '3rd', v: p9V2to5, i: p9I3, color: '#2aa382' },
      { label: '4th', v: p9V2to5, i: p9I4, color: '#6a6ad0' },
      { label: '5th', v: p9V2to5, i: p9I5, color: '#e46ee4' }
    ],
    deco: {
      legend: { x: 862, y: 352, dy: 5.9, len: 8, gap: 2, font: "4.5px " + SANS, color: '#333', lw: 1 },
      notes: [
        { t: '0.1 mV s\u207B\u00B9', x: 853, y: 259, f: "bold 4.8px " + SANS, c: '#333' },
        { t: '1.97 V', x: 835, y: 275, f: "bold 4.8px " + SANS, c: '#333' },
        { t: '1.98 V', x: 829, y: 310, f: "bold 4.8px " + SANS, c: '#333' },
        { t: '1.07 V', x: 762, y: 328, f: "bold 4.8px " + SANS, c: '#333' },
        { t: '0.61 V', x: 727, y: 383, f: "bold 4.8px " + SANS, c: '#333' }
      ],
      segs: [[823, 279, 833, 275, '#444'], [816, 303, 827, 309, '#444'], [750, 323, 760, 328, '#444'], [719, 372, 726, 382, '#444']]
    }
  },
  { // 10
    box: [885, 240, 1104, 432], plot: [927, 252, 1102, 396], fam: SERIF, tick: 8, tickBold: false, titleBold: false,
    ytSize: 10, xtSize: 11, frame: '#555', frameW: 1, lw: 1.5, tickColor: '#333', titleColor: '#222',
    x: { min: 0.5, max: 3.2, ticks: p10XTicks, dec: 1, title: 'Voltage (V)', titlePos: 420 },
    y: { min: -0.6, max: 0.6, ticks: p10YTicks, dec: 1, title: 'Current Density (A g\u207B\u00B9)', titlePos: 893 },
    series: [
      { label: '1st', v: p10V1, i: p10I1, color: '#1a1a1a' },
      { label: '2nd', v: p10V23, i: p10I2, color: '#e5485a' },
      { label: '3rd', v: p10V23, i: p10I3, color: '#5aa5d8' }
    ],
    deco: {
      legend: { x: 1053, y: 267, dy: 10.5, len: 14, gap: 2, font: "8.5px " + SERIF },
      notes: [
        { t: '1.84 V', x: 1015, y: 277, f: "8px " + SERIF, c: '#222', a: 'center' },
        { t: '2.04 V', x: 1018, y: 337, f: "8px " + SERIF, c: '#222', a: 'center' },
        { t: '0.95 V', x: 962, y: 347, f: "8px " + SERIF, c: '#222', a: 'center' },
        { t: '1.45 V', x: 991, y: 357, f: "8px " + SERIF, c: '#222', a: 'center' },
        { t: '0.88 V', x: 953, y: 385, f: "8px " + SERIF, c: '#222', a: 'center' },
        { t: 'S/CoS\u2082-CoSe\u2082@CNFs', x: 1035, y: 372, f: "7.5px " + SERIF, c: '#222', a: 'center' }
      ]
    }
  }
];

panels.forEach(makePanel);

// ---------- caption text ----------
const capXb = [134, 361, 577, 796, 1009, 131, 352, 577, 794, 1015];
const capXr = [134, 352, 577, 794, 1010, 131, 352, 577, 797, 1015];
const capYb = [199, 199, 200, 199, 200, 437, 437, 437, 437, 437];
const capYr = [218, 218, 219.5, 218, 219.5, 454, 454, 450, 454, 454];
const capYe = [0, 0, 232.5, 0, 232.5, 0, 0, 469.5, 0, 0];
const fig = document.getElementById('fig');
capJournal.forEach((j, k) => {
  const b = document.createElement('div');
  b.className = 'cap b';
  b.innerHTML = '<i>' + j + '</i>' + capRef[k];
  b.style.left = capXb[k] + 'px'; b.style.top = capYb[k] + 'px';
  fig.appendChild(b);
  const r = document.createElement('div');
  r.className = 'cap';
  r.innerHTML = capElectrolyte[k];
  r.style.left = capXr[k] + 'px'; r.style.top = capYr[k] + 'px';
  fig.appendChild(r);
  if (capExtra[k]) {
    const e = document.createElement('div');
    e.className = 'cap';
    e.textContent = capExtra[k];
    e.style.left = capXr[k] + 'px'; e.style.top = capYe[k] + 'px';
    fig.appendChild(e);
  }
});
</script>
</body>
</html>
